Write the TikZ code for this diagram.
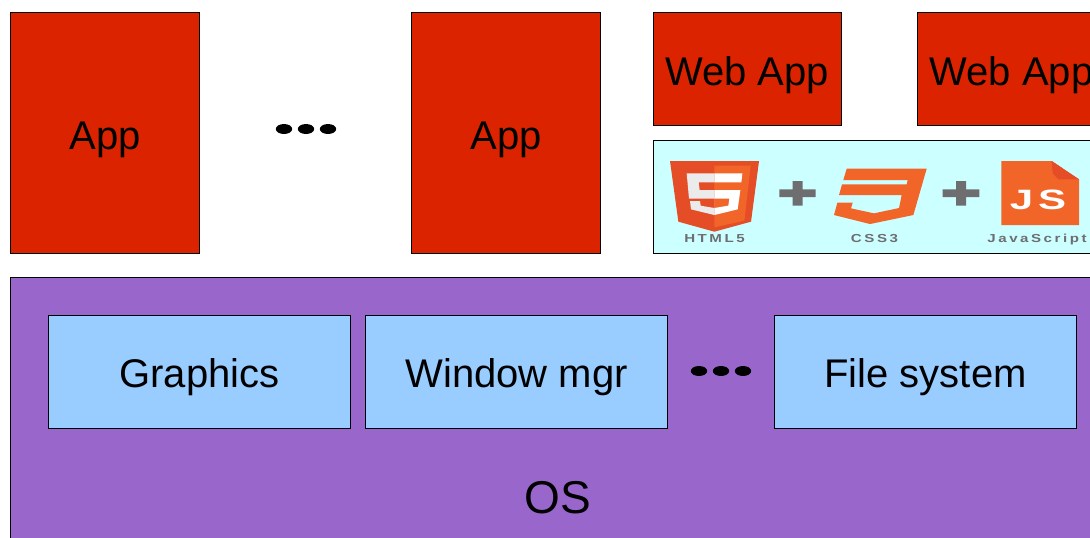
\documentclass[tikz,border=0pt]{standalone}
\usepackage{fontspec}
\setmainfont{Liberation Sans}
\newfontfamily\logofont[FakeStretch=1.3,LetterSpace=22]{Liberation Sans}
\newfontfamily\jsfont[FakeStretch=1.5,LetterSpace=18]{Liberation Sans}
\usetikzlibrary{shapes,positioning}
\definecolor{appred}{HTML}{DC2300}
\definecolor{ospurple}{HTML}{9966CC}
\definecolor{modblue}{HTML}{99CCFF}
\definecolor{stackcyan}{HTML}{CCFFFF}
\definecolor{htmldark}{HTML}{E44D26}
\definecolor{logoorange}{HTML}{F26528}
\definecolor{logogray}{HTML}{6E6E70}
\tikzset{
	box/.style={draw=black, line width=0.4pt, outer sep=0pt, inner sep=0pt, text height=16.4pt, text depth=0pt, font=\fontsize{20}{24}\selectfont},
	appbox/.style={box, fill=appred, minimum width=94.5pt, minimum height=120.5pt},
	webbox/.style={box, fill=appred, minimum width=94.2pt, minimum height=56.5pt, anchor=north west, text height=17.4pt},
	modbox/.style={box, fill=modblue, minimum width=151pt, minimum height=56.5pt},
	dotmark/.style={ellipse, fill=black, inner sep=0pt, minimum width=8.2pt, minimum height=5pt},
	logotext/.style={text=logogray, inner sep=0pt, font=\logofont\bfseries\fontsize{5.8}{6}\selectfont}
}
\begin{document}
\begin{tikzpicture}[x=0.5pt,y=-0.5pt]
	\path[use as bounding box, clip] (0,0) rectangle (1090,537);

	\node[appbox] (App1) at (105,133) {App};
	\node[appbox] (App2) [right = 106pt of App1] {App};
	\node[webbox] (Web1) at (653,12) {Web App};
	\node[webbox] (Web2) [right = 38pt of Web1.north east, anchor=north west] {Web App};
	\node[box, fill=stackcyan, minimum width=240pt, minimum height=56.8pt, anchor=north west] (Stack) [below = 7.5pt of Web1.south west, anchor=north west] {};

	\node[dotmark] (D1) at (284,129) {};
	\node[dotmark, on grid] (D2) [right = 11pt of D1] {};
	\node[dotmark, on grid] (D3) [right = 11pt of D2] {};

	\node[box, fill=ospurple, minimum width=548pt, minimum height=200pt, anchor=north west] (OS) at (10,277) {};
	\node[font=\fontsize{23}{27}\selectfont, inner sep=0pt] (OSlabel) at (558,498) {OS};
	\node[modbox] (Gfx) at (199.5,371.5) {Graphics};
	\node[modbox] (Win) [right = 7.5pt of Gfx] {Window mgr};
	\node[modbox] (Files) [right = 53.5pt of Win] {File system};
	\node[dotmark] (D4) at (699,371) {};
	\node[dotmark, on grid] (D5) [right = 11pt of D4] {};
	\node[dotmark, on grid] (D6) [right = 11pt of D5] {};

	% html5 shield
	\begin{scope}[shift={(660,150)},x=0.1667pt,y=-0.1667pt]
		\fill[htmldark] (30,33) -- (297,33) -- (273,215) -- (163,245) -- (55,215) -- cycle;
		\fill[logoorange] (163,47) -- (272,47) -- (253,212) -- (163,232) -- cycle;
		\fill[black!8] (80,70) -- (87,146) -- (163,146) -- (163,174) -- (122,167) -- (120,153) -- (90,153) -- (93,178) -- (163,195) -- (163,120) -- (119,120) -- (116,97) -- (163,97) -- (163,70) -- cycle;
		\fill[white] (163,70) -- (247,70) -- (244,97) -- (163,97) -- cycle;
		\fill[white] (163,120) -- (241,120) -- (233,178) -- (163,195) -- (163,174) -- (205,167) -- (208,146) -- (163,146) -- cycle;
	\end{scope}
	\node[logotext] (Html) at (714.5,239) {HTML5};

	% css3 badge
	\begin{scope}[shift={(825,150)},x=0.1667pt,y=-0.1667pt]
		\fill[logoorange] (65,56) -- (305,56) -- (265,195) -- (135,222) -- (27,195) -- (37,158) -- (83,158) -- (78,175) -- (147,190) -- (222,174) -- (230,135) -- (42,135) -- (51,103) -- (245,103) -- (248,90) -- (55,90) -- cycle;
	\end{scope}
	\node[logotext] (Css) at (874.5,239) {CSS3};

	% js page
	\begin{scope}[shift={(960,150)},x=0.1667pt,y=-0.1667pt]
		\fill[logoorange] (124,33) -- (275,33) -- (357,88) -- (357,225) -- (124,225) -- cycle;
		\fill[htmldark] (275,33) -- (357,88) -- (295,88) -- (278,70) -- cycle;
	\end{scope}
	\node[logotext, text=white, font=\jsfont\bfseries\fontsize{14}{16}\selectfont] (Js) at (1038,200) {JS};
	\node[logotext] (Script) at (1037,239) {JavaScript};

	% plus signs
	\fill[logogray] (779.3,189.3) rectangle (815.7,197) (792.7,181) rectangle (802.7,205.7);
	\fill[logogray] (942.7,189.3) rectangle (979.3,197) (956,181) rectangle (966,205.7);
\end{tikzpicture}
\end{document}
